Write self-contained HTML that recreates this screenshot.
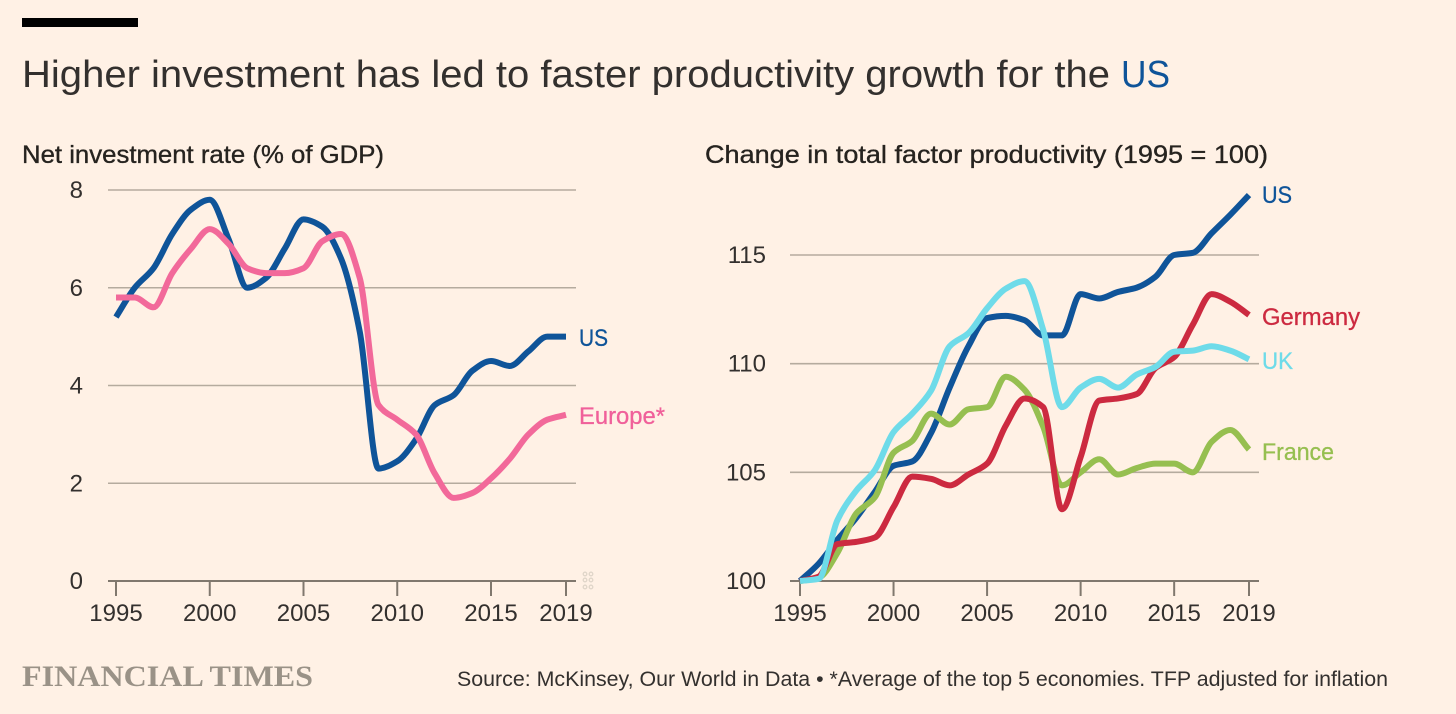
<!DOCTYPE html>
<html lang="en">
<head>
<meta charset="utf-8">
<title>Higher investment has led to faster productivity growth for the US</title>
<style>
html,body{margin:0;padding:0;background:#fff1e5;}
svg{display:block;font-family:"Liberation Sans",sans-serif;}
.tick-label{font-size:24px;fill:#33302e;}
.subtitle{font-size:25px;fill:#26231f;stroke:#26231f;stroke-width:.35px;}
.series-label{font-size:24px;stroke-width:.3px;}
</style>
</head>
<body>
<svg id="chart" width="1456" height="714" viewBox="0 0 1456 714" xmlns="http://www.w3.org/2000/svg">
  <rect x="0" y="0" width="1456" height="714" fill="#fff1e5"/>
  <rect x="22" y="18" width="116" height="9" fill="#000"/>
  <text x="22" y="87" font-size="38" fill="#33302e" textLength="1088" lengthAdjust="spacingAndGlyphs">Higher investment has led to faster productivity growth for the</text>
  <text x="1121" y="87" font-size="38" fill="#0f5499" textLength="49" lengthAdjust="spacingAndGlyphs">US</text>
  <text class="subtitle" x="22" y="163" textLength="362" lengthAdjust="spacingAndGlyphs">Net investment rate (% of GDP)</text>
  <text class="subtitle" x="705" y="163" textLength="563" lengthAdjust="spacingAndGlyphs">Change in total factor productivity (1995 = 100)</text>
  <g id="left-chart"></g>
  <g id="right-chart"></g>
  <text class="series-label" x="579" y="346" fill="#0f5499" stroke="#0f5499" textLength="29" lengthAdjust="spacingAndGlyphs">US</text>
  <text class="series-label" x="579" y="424" fill="#f0609a" stroke="#f0609a" textLength="86" lengthAdjust="spacingAndGlyphs">Europe*</text>
  <text class="series-label" x="1262" y="203" fill="#0f5499" stroke="#0f5499" textLength="30" lengthAdjust="spacingAndGlyphs">US</text>
  <text class="series-label" x="1262" y="325" fill="#cc2a40" stroke="#cc2a40" textLength="98" lengthAdjust="spacingAndGlyphs">Germany</text>
  <text class="series-label" x="1262" y="369" fill="#6edbe9" stroke="#6edbe9" textLength="31" lengthAdjust="spacingAndGlyphs">UK</text>
  <text class="series-label" x="1262" y="460" fill="#96bf50" stroke="#96bf50" textLength="72" lengthAdjust="spacingAndGlyphs">France</text>
  <g fill="none" stroke="#e0d6c9" stroke-width="1.3">
    <circle cx="585" cy="574" r="1.8"/><circle cx="591" cy="574" r="1.8"/>
    <circle cx="585" cy="580" r="1.8"/><circle cx="591" cy="580" r="1.8"/>
    <circle cx="585" cy="587" r="1.8"/><circle cx="591" cy="587" r="1.8"/>
  </g>
  <text x="22" y="686" font-family="'Liberation Serif',serif" font-weight="bold" font-size="30" fill="#9a9287" textLength="291" lengthAdjust="spacingAndGlyphs">FINANCIAL TIMES</text>
  <text x="457" y="686" font-size="21" fill="#33302e" textLength="931" lengthAdjust="spacingAndGlyphs">Source: McKinsey, Our World in Data • *Average of the top 5 economies. TFP adjusted for inflation</text>
</svg>
<script>
const years = [1995,1996,1997,1998,1999,2000,2001,2002,2003,2004,2005,2006,2007,2008,2009,2010,2011,2012,2013,2014,2015,2016,2017,2018,2019];
const xTickLabels = [1995,2000,2005,2010,2015,2019];
const leftYTicks = [0,2,4,6,8];
const rightYTicks = [100,105,110,115];
const investmentUS = [5.4,6.0,6.4,7.1,7.6,7.8,7.0,6.0,6.2,6.8,7.4,7.25,6.6,5.1,2.3,2.45,2.9,3.6,3.8,4.3,4.5,4.4,4.7,5.0,5.0];
const investmentEurope = [5.8,5.8,5.6,6.3,6.8,7.2,6.9,6.4,6.3,6.3,6.4,6.95,7.1,6.2,3.6,3.3,3.0,2.2,1.7,1.8,2.1,2.5,3.0,3.3,3.4];
const productivityUS = [100,100.8,101.9,102.9,104.1,105.3,105.5,106.8,108.9,110.8,112.1,112.2,112.0,111.3,111.3,113.2,113.0,113.3,113.5,114.0,115.0,115.1,116.0,116.85,117.76];
const productivityFrance = [100,100.15,101.3,103.1,103.85,105.9,106.45,107.7,107.2,107.9,108.0,109.4,108.8,107.1,104.4,105.0,105.6,104.9,105.2,105.4,105.4,105.0,106.4,106.95,106.05];
const productivityGermany = [100,100.2,101.7,101.8,102.0,103.4,104.8,104.7,104.4,104.9,105.4,107.15,108.4,108.0,103.3,105.7,108.3,108.4,108.6,109.8,110.3,111.8,113.2,112.85,112.24];
const productivityUK = [100,100.1,102.8,104.15,105.1,106.85,107.7,108.75,110.8,111.4,112.55,113.45,113.8,111.55,108.0,108.9,109.3,108.9,109.5,109.85,110.55,110.6,110.8,110.6,110.2];

const NS = 'http://www.w3.org/2000/svg';

function linearScale(d0, d1, r0, r1) {
  return function (v) { return r0 + (v - d0) * (r1 - r0) / (d1 - d0); };
}

function monotonePath(xs, ys) {
  const n = xs.length;
  const dx = [], m = [], t = [];
  for (let i = 0; i < n - 1; i++) {
    dx.push(xs[i + 1] - xs[i]);
    m.push((ys[i + 1] - ys[i]) / dx[i]);
  }
  t.push(m[0]);
  for (let i = 1; i < n - 1; i++) {
    if (m[i - 1] * m[i] <= 0) { t.push(0); }
    else { t.push(2 * m[i - 1] * m[i] / (m[i - 1] + m[i])); }
  }
  t.push(m[n - 2]);
  let d = 'M' + xs[0].toFixed(2) + ',' + ys[0].toFixed(2);
  for (let i = 0; i < n - 1; i++) {
    const h = dx[i] / 3;
    d += 'C' + (xs[i] + h).toFixed(2) + ',' + (ys[i] + t[i] * h).toFixed(2) + ' ' +
      (xs[i + 1] - h).toFixed(2) + ',' + (ys[i + 1] - t[i + 1] * h).toFixed(2) + ' ' +
      xs[i + 1].toFixed(2) + ',' + ys[i + 1].toFixed(2);
  }
  return d;
}

function drawAxes(group, prefix, x, y, yTicks, gridLeft, gridRight, labelRight) {
  yTicks.forEach(function (tick) {
    const line = document.createElementNS(NS, 'line');
    
    
    line.setAttribute('x1', gridLeft);
    line.setAttribute('x2', gridRight);
    line.setAttribute('y1', y(tick));
    line.setAttribute('y2', y(tick));
    line.setAttribute('stroke', tick === yTicks[0] ? '#80786e' : '#b5ab9e');
    line.setAttribute('stroke-width', tick === yTicks[0] ? 2 : 1.6);
    group.appendChild(line);

    const label = document.createElementNS(NS, 'text');
    
    
    label.setAttribute('class', 'tick-label');
    label.setAttribute('x', labelRight);
    label.setAttribute('y', y(tick) + 8);
    label.setAttribute('text-anchor', 'end');
    label.textContent = tick;
    group.appendChild(label);
  });
  xTickLabels.forEach(function (year) {
    const mark = document.createElementNS(NS, 'line');
    
    
    mark.setAttribute('x1', x(year));
    mark.setAttribute('x2', x(year));
    mark.setAttribute('y1', y(yTicks[0]));
    mark.setAttribute('y2', y(yTicks[0]) + 15);
    mark.setAttribute('stroke', '#80786e');
    mark.setAttribute('stroke-width', 2);
    group.appendChild(mark);

    const label = document.createElementNS(NS, 'text');
    
    
    label.setAttribute('class', 'tick-label');
    label.setAttribute('x', x(year));
    label.setAttribute('y', 621);
    label.setAttribute('text-anchor', 'middle');
    label.textContent = year;
    group.appendChild(label);
  });
}

function drawSeries(group, name, values, color, x, y) {
  const path = document.createElementNS(NS, 'path');
  
  
  path.setAttribute('d', monotonePath(years.map(x), values.map(y)));
  path.setAttribute('fill', 'none');
  path.setAttribute('stroke', color);
  path.setAttribute('stroke-width', 6);
  path.setAttribute('stroke-linejoin', 'round');
  group.appendChild(path);
}

const leftGroup = document.getElementById('left-chart');
const leftX = linearScale(1995, 2019, 116, 566);
const leftY = linearScale(0, 8, 581, 190);
drawAxes(leftGroup, 'left', leftX, leftY, leftYTicks, 108, 576, 83);
drawSeries(leftGroup, 'line-investment-us', investmentUS, '#0f5499', leftX, leftY);
drawSeries(leftGroup, 'line-investment-europe', investmentEurope, '#f2699a', leftX, leftY);

const rightGroup = document.getElementById('right-chart');
const rightX = linearScale(1995, 2019, 800, 1249);
const rightY = linearScale(100, 115, 581, 255);
drawAxes(rightGroup, 'right', rightX, rightY, rightYTicks, 790, 1259, 766);
drawSeries(rightGroup, 'line-productivity-us', productivityUS, '#0f5499', rightX, rightY);
drawSeries(rightGroup, 'line-productivity-france', productivityFrance, '#96bf50', rightX, rightY);
drawSeries(rightGroup, 'line-productivity-germany', productivityGermany, '#cc2a40', rightX, rightY);
drawSeries(rightGroup, 'line-productivity-uk', productivityUK, '#6edbe9', rightX, rightY);
</script>
</body>
</html>
